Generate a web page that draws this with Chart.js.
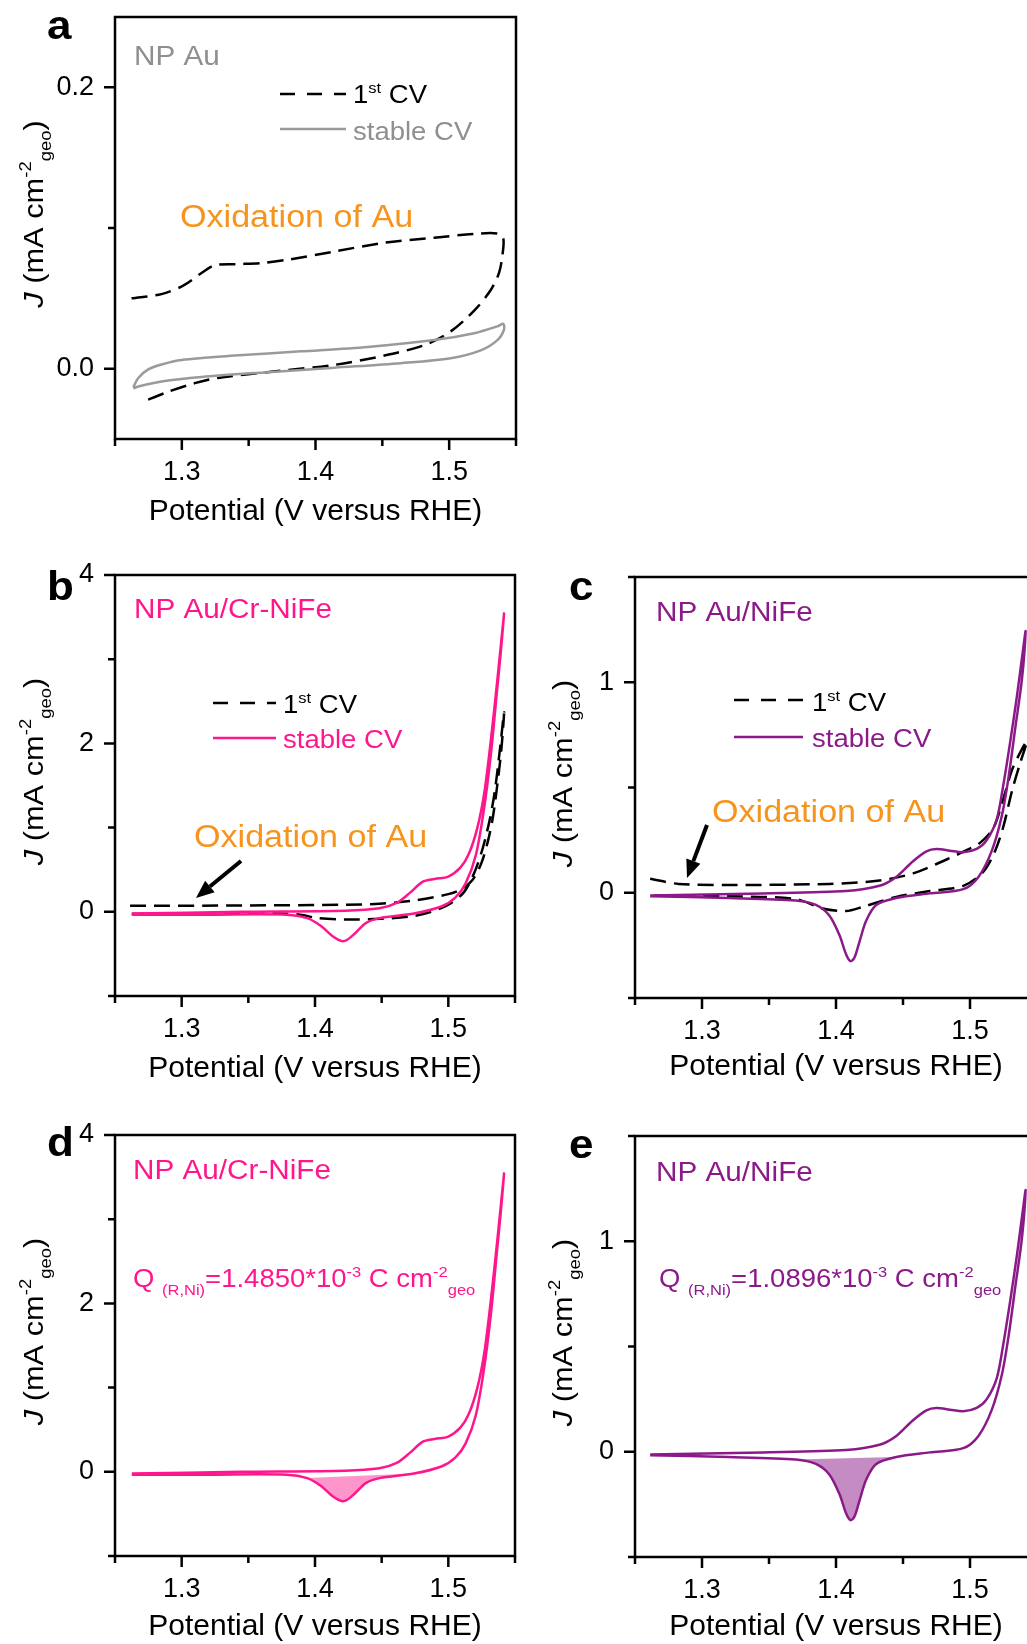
<!DOCTYPE html>
<html>
<head>
<meta charset="utf-8">
<title>Cyclic voltammograms of NP Au, NP Au/Cr-NiFe and NP Au/NiFe</title>
<script src="https://cdn.jsdelivr.net/npm/chart.js@4.4.1/dist/chart.umd.min.js"></script>
<style>
  html, body { margin: 0; padding: 0; background: #fff; }
  body { position: relative; width: 1027px; height: 1644px; overflow: hidden; }
</style>
</head>
<body>
<script>
// ---- data: potential (V vs RHE) and current density J (mA cm-2 geo) ----

// panel a, NP Au, first CV (one closed loop)
const auFirstV = [1.2624, 1.2848, 1.3010, 1.3147, 1.3246, 1.3396, 1.3595, 1.3794, 1.4142, 1.4515, 1.4888, 1.5187, 1.5361, 1.5405,
                  1.5398, 1.5373, 1.5311, 1.5187, 1.5012, 1.4813, 1.4515, 1.4142, 1.3719, 1.3271, 1.3097, 1.2898, 1.2699]
const auFirstJ = [0.050, 0.053, 0.059, 0.068, 0.0735, 0.0743, 0.075, 0.0775, 0.0833, 0.0895, 0.0931, 0.0958, 0.0961, 0.0926,
                  0.0804, 0.0681, 0.0559, 0.0412, 0.0265, 0.0167, 0.0093, 0.0027, -0.0017, -0.0066, -0.0103, -0.0164, -0.0238]
// panel a, NP Au, stable CV (anodic then cathodic scan)
const auStableFwdV = [1.2637, 1.2674, 1.2749, 1.2848, 1.2998, 1.3396, 1.3893, 1.4391, 1.4888, 1.5187, 1.5361, 1.5405]
const auStableFwdJ = [-0.0132, -0.0066, -0.0005, 0.0030, 0.0062, 0.0093, 0.0123, 0.0154, 0.0203, 0.0252, 0.0301, 0.0319]
const auStableRevV = [1.5410, 1.5361, 1.5236, 1.5012, 1.4639, 1.4142, 1.3644, 1.3147, 1.2848, 1.2674, 1.2637]
const auStableRevJ = [0.0277, 0.0203, 0.0130, 0.0074, 0.0039, 0.0007, -0.0025, -0.0059, -0.0091, -0.0127, -0.0140]

// panels b and d, NP Au/Cr-NiFe
const crFirstV = [1.2613, 1.3452, 1.4226, 1.4484, 1.4742, 1.5000, 1.5103, 1.5181, 1.5245, 1.5297, 1.5335, 1.5374, 1.5400, 1.5418,
                  1.5387, 1.5348, 1.5310, 1.5258, 1.5194, 1.5116, 1.5000, 1.4871, 1.4742, 1.4484, 1.4226, 1.4019, 1.3890, 1.3710, 1.3194, 1.2626]
const crFirstJ = [0.071, 0.075, 0.084, 0.096, 0.134, 0.21, 0.273, 0.377, 0.566, 0.839, 1.132, 1.593, 1.971, 2.369,
                  1.929, 1.426, 1.09, 0.755, 0.461, 0.231, 0.084, 0.0, -0.05, -0.084, -0.092, -0.075, -0.034, -0.021, -0.021, -0.025]
const crStableFwdV = [1.2626, 1.3452, 1.4226, 1.4484, 1.4613, 1.4716, 1.4806, 1.4897, 1.5000, 1.5090, 1.5155, 1.5219, 1.5271, 1.5323, 1.5374, 1.5418]
const crStableFwdJ = [-0.021, 0.0, 0.013, 0.042, 0.105, 0.231, 0.356, 0.39, 0.419, 0.524, 0.692, 1.006, 1.426, 2.096, 2.851, 3.543]
const crStableRevV = [1.5392, 1.5361, 1.5323, 1.5271, 1.5206, 1.5129, 1.5052, 1.4948, 1.4742, 1.4484, 1.4381, 1.4303, 1.4239, 1.4200,
                      1.4135, 1.4045, 1.3942, 1.3787, 1.3194, 1.2626]
const crStableRevJ = [3.061, 2.558, 1.929, 1.258, 0.671, 0.335, 0.168, 0.063, -0.021, -0.075, -0.134, -0.252, -0.335, -0.348,
                      -0.294, -0.168, -0.075, -0.034, -0.034, -0.034]

// panels c and e, NP Au/NiFe
const niFirstV = [1.2613, 1.2825, 1.3200, 1.3950, 1.4325, 1.4575, 1.4825, 1.4950, 1.5075, 1.5175, 1.5250, 1.5313, 1.5375, 1.5425,
                  1.5375, 1.5313, 1.5250, 1.5188, 1.5100, 1.4950, 1.4700, 1.4450, 1.4200, 1.4075, 1.3900, 1.3700, 1.3200, 1.2613]
const niFirstJ = [0.067, 0.042, 0.037, 0.042, 0.058, 0.092, 0.158, 0.195, 0.237, 0.308, 0.45, 0.583, 0.667, 0.72,
                  0.617, 0.483, 0.317, 0.2, 0.1, 0.033, 0.008, -0.02, -0.067, -0.087, -0.075, -0.03, -0.017, -0.013]
const niStableFwdV = [1.2613, 1.3450, 1.4075, 1.4325, 1.4450, 1.4575, 1.4675, 1.4750, 1.4850, 1.4950, 1.5050, 1.5125, 1.5200, 1.5250,
                      1.5300, 1.5350, 1.5395, 1.5415]
const niStableFwdJ = [-0.013, -0.003, 0.008, 0.033, 0.075, 0.15, 0.197, 0.208, 0.2, 0.192, 0.208, 0.25, 0.35, 0.517,
                      0.717, 0.933, 1.15, 1.242]
const niStableRevV = [1.5388, 1.5338, 1.5288, 1.5238, 1.5163, 1.5063, 1.4950, 1.4700, 1.4450, 1.4300, 1.4225, 1.4175, 1.4138, 1.4108,
                      1.4075, 1.4025, 1.3950, 1.3850, 1.3700, 1.3200, 1.2613]
const niStableRevJ = [1.017, 0.783, 0.55, 0.367, 0.2, 0.075, 0.017, -0.003, -0.025, -0.058, -0.133, -0.233, -0.308, -0.325,
                      -0.292, -0.2, -0.108, -0.058, -0.037, -0.025, -0.017]

// potential window of the shaded Ni reduction peak (panels d and e)
const crShadeRange = [1.39, 1.476]
const niShadeRange = [1.365, 1.46]

// ticks
const xTickValues = [1.25, 1.3, 1.35, 1.4, 1.45, 1.5, 1.55]
const xTickLabels = ['', '1.3', '', '1.4', '', '1.5', '']
const auTickValues = [0, 0.1, 0.2]
const auTickLabels = ['0.0', '', '0.2']
const crTickValues = [-1, 0, 1, 2, 3, 4]
const crTickLabels = ['', '0', '', '2', '', '4']
const niTickValues = [-0.5, 0, 0.5, 1, 1.5]
const niTickLabels = ['', '0', '', '1', '']

// texts
const xTitle = 'Potential (V versus RHE)'
const yTitle = [['J', 'italic'], [' (mA cm'], ['-2', 'sup'], ['geo', 'sub'], [')']]
const firstLabel = [['1'], ['st', 'sup'], [' CV']]
const stableLabel = [['stable CV']]
const oxidationLabel = [['Oxidation of Au']]
const crCharge = [['Q '], ['(R,Ni)', 'sub'], ['=1.4850*10'], ['-3', 'sup'], [' C cm'], ['-2', 'sup'], ['geo', 'sub']]
const niCharge = [['Q '], ['(R,Ni)', 'sub'], ['=1.0896*10'], ['-3', 'sup'], [' C cm'], ['-2', 'sup'], ['geo', 'sub']]

const FONT = '"Liberation Sans", Arial, Helvetica, sans-serif'
const PINK = '#ff168c'
const PURPLE = '#8b1a89'
const ORANGE = '#f7941d'
const GRAY_LINE = '#9a9a9a'
const GRAY_TEXT = '#8f8f8f'
const STRETCH = 1.1  // the figure's lettering is a bit wider than plain Arial

Chart.defaults.font.family = FONT
Chart.defaults.color = '#000'

const pts = (vs, js) => vs.map((v, i) => ({ x: v, y: js[i] }))
const loop = (fv, fj, rv, rj) => pts(fv.concat(rv), fj.concat(rj))
const shade = (rv, rj, range) => pts(rv, rj).filter(p => p.x >= range[0] && p.x <= range[1])

function firstCv(data) {
  return { data, showLine: true, fill: false, borderColor: '#000', borderWidth: 2.5, borderDash: [16, 8], pointRadius: 0, tension: 0.3 }
}
function stableCv(data, color) {
  return { data, showLine: true, fill: false, borderColor: color, borderWidth: 2.5, pointRadius: 0, tension: 0.3 }
}
function peakArea(data, color) {
  return { data, showLine: true, fill: 'shape', backgroundColor: color, borderColor: 'rgba(0,0,0,0)', borderWidth: 0, pointRadius: 0, tension: 0.3 }
}

// draws a run of text pieces with super/subscripts; x,y is the left baseline point (or centre)
function richText(ctx, x, y, parts, size, color, opts = {}) {
  ctx.save()
  ctx.translate(x, y)
  if (opts.rotate) ctx.rotate(opts.rotate)
  ctx.scale(STRETCH, 1)
  ctx.fillStyle = color
  ctx.textBaseline = 'alphabetic'
  const items = parts.map(([t, kind]) => {
    const small = kind === 'sup' || kind === 'sub'
    const font = (kind === 'italic' ? 'italic ' : '') + (opts.bold ? 'bold ' : '') + (small ? size * 0.6 : size) + 'px ' + FONT
    ctx.font = font
    return { t, font, w: ctx.measureText(t).width, dy: kind === 'sup' ? -size * 0.42 : kind === 'sub' ? size * 0.3 : 0 }
  })
  const total = items.reduce((s, it) => s + it.w, 0)
  let cx = opts.align === 'center' ? -total / 2 : 0
  items.forEach(it => {
    ctx.font = it.font
    ctx.fillText(it.t, cx, it.dy)
    cx += it.w
  })
  ctx.restore()
}

function drawArrow(ctx, x1, y1, x2, y2) {
  const ang = Math.atan2(y2 - y1, x2 - x1)
  const head = 18, half = 7.5
  const bx = x2 - head * Math.cos(ang), by = y2 - head * Math.sin(ang)
  ctx.save()
  ctx.strokeStyle = '#000'
  ctx.fillStyle = '#000'
  ctx.lineWidth = 4
  ctx.beginPath()
  ctx.moveTo(x1, y1)
  ctx.lineTo(bx, by)
  ctx.stroke()
  ctx.beginPath()
  ctx.moveTo(x2, y2)
  ctx.lineTo(bx + half * Math.sin(ang), by - half * Math.cos(ang))
  ctx.lineTo(bx - half * Math.sin(ang), by + half * Math.cos(ang))
  ctx.closePath()
  ctx.fill()
  ctx.restore()
}

// frame, outward ticks and all the lettering inside each panel
function decorations(p) {
  return {
    id: 'decor',
    afterDraw(chart) {
      const ctx = chart.ctx
      const { left: L, right: R, top: T, bottom: B } = chart.chartArea
      const xs = chart.scales.x, ys = chart.scales.y
      ctx.save()
      ctx.strokeStyle = '#000'
      ctx.lineWidth = 2.5
      ctx.strokeRect(L, T, R - L, B - T)
      ctx.beginPath()
      xTickValues.forEach((v, i) => {
        const px = xs.getPixelForValue(v)
        ctx.moveTo(px, B)
        ctx.lineTo(px, B + (xTickLabels[i] ? 11 : 7))
      })
      p.yTicks.forEach((v, i) => {
        const py = ys.getPixelForValue(v)
        ctx.moveTo(L, py)
        ctx.lineTo(L - (p.yLabels[i] ? 11 : 7), py)
      })
      ctx.stroke()

      richText(ctx, L + p.letterAt[0], T + p.letterAt[1], [[p.letter]], 40, '#000', { bold: true })
      richText(ctx, L + p.yTitleDx, (T + B) / 2 - 14, yTitle, 28, '#000', { rotate: -Math.PI / 2, align: 'center' })
      richText(ctx, L + p.nameAt[0], T + p.nameAt[1], [[p.name]], 27, p.textColor)

      if (p.legend) {
        const lg = p.legend
        ctx.lineWidth = 2.5
        ctx.strokeStyle = '#000'
        ctx.setLineDash([15, 12])
        ctx.beginPath()
        ctx.moveTo(L + lg.x1, T + lg.rows[0][0])
        ctx.lineTo(L + lg.x2, T + lg.rows[0][0])
        ctx.stroke()
        ctx.setLineDash([])
        ctx.strokeStyle = p.lineColor
        ctx.beginPath()
        ctx.moveTo(L + lg.x1, T + lg.rows[1][0])
        ctx.lineTo(L + lg.x2, T + lg.rows[1][0])
        ctx.stroke()
        richText(ctx, L + lg.tx, T + lg.rows[0][1], firstLabel, 25, '#000')
        richText(ctx, L + lg.tx, T + lg.rows[1][1], stableLabel, 25, p.textColor)
      }
      if (p.oxAt) richText(ctx, L + p.oxAt[0], T + p.oxAt[1], oxidationLabel, 31, ORANGE)
      if (p.arrow) drawArrow(ctx, L + p.arrow[0], T + p.arrow[1], L + p.arrow[2], T + p.arrow[3])
      if (p.charge) richText(ctx, L + p.chargeAt[0], T + p.chargeAt[1], p.charge, 25, p.textColor)
      ctx.restore()
    }
  }
}

function makePanel(p) {
  const canvas = document.createElement('canvas')
  canvas.width = p.box.w
  canvas.height = p.box.h
  canvas.style.cssText = `position:absolute;left:${p.box.left}px;top:${p.box.top}px;width:${p.box.w}px;height:${p.box.h}px`
  document.body.appendChild(canvas)
  const a = p.area
  const xHeight = p.box.top + p.box.h - a.b
  return new Chart(canvas, {
    type: 'scatter',
    data: { datasets: p.datasets },
    options: {
      responsive: false,
      animation: false,
      events: [],
      layout: { padding: { top: a.t - p.box.top, right: p.box.left + p.box.w - a.r, left: 0, bottom: 0 } },
      plugins: { legend: { display: false }, tooltip: { enabled: false } },
      scales: {
        // the tick marks themselves are drawn by the decor plugin; tickLength only spaces the labels
        x: {
          type: 'linear', min: 1.25, max: 1.55,
          afterBuildTicks: s => { s.ticks = xTickValues.map(v => ({ value: v })) },
          afterFit: s => { s.height = xHeight },
          grid: { display: false, drawTicks: true, tickLength: 17 },
          border: { display: false },
          ticks: { autoSkip: false, maxRotation: 0, padding: 0, color: '#000', font: { size: 27 }, callback: (v, i) => xTickLabels[i] },
          title: { display: true, text: xTitle, color: '#000', font: { size: 30, lineHeight: 1 },
                   padding: { top: 0, bottom: p.box.top + p.box.h - p.titleY - 15 } }
        },
        y: {
          type: 'linear', min: p.yMin, max: p.yMax,
          afterBuildTicks: s => { s.ticks = p.yTicks.map(v => ({ value: v })) },
          afterFit: s => { s.width = a.l - p.box.left },
          grid: { display: false, drawTicks: true, tickLength: 21 },
          border: { display: false },
          ticks: { autoSkip: false, padding: 0, color: '#000', font: { size: 27 }, callback: (v, i) => p.yLabels[i] }
        }
      }
    },
    plugins: [decorations(p)]
  })
}

makePanel({
  letter: 'a', box: { left: 0, top: 0, w: 530, h: 545 }, area: { l: 115, t: 17, r: 516, b: 439 }, titleY: 512,
  yMin: -0.05, yMax: 0.25, yTicks: auTickValues, yLabels: auTickLabels, yTitleDx: -72, letterAt: [-68, 22],
  name: 'NP Au', nameAt: [19, 48], textColor: GRAY_TEXT, lineColor: GRAY_LINE,
  legend: { x1: 165, x2: 231, tx: 238, rows: [[77, 86], [112, 123]] },
  oxAt: [65, 210],
  datasets: [
    stableCv(loop(auStableFwdV, auStableFwdJ, auStableRevV, auStableRevJ), GRAY_LINE),
    firstCv(pts(auFirstV, auFirstJ))
  ]
})

makePanel({
  letter: 'b', box: { left: 0, top: 545, w: 530, h: 545 }, area: { l: 115, t: 575, r: 515, b: 996 }, titleY: 1069,
  yMin: -1, yMax: 4, yTicks: crTickValues, yLabels: crTickLabels, yTitleDx: -72, letterAt: [-68, 25],
  name: 'NP Au/Cr-NiFe', nameAt: [19, 43], textColor: PINK, lineColor: PINK,
  legend: { x1: 98, x2: 161, tx: 168, rows: [[128, 138], [163, 173]] },
  oxAt: [79, 272], arrow: [126, 286, 81, 323],
  datasets: [
    stableCv(loop(crStableFwdV, crStableFwdJ, crStableRevV, crStableRevJ), PINK),
    firstCv(pts(crFirstV, crFirstJ))
  ]
})

makePanel({
  letter: 'c', box: { left: 530, top: 545, w: 530, h: 545 }, area: { l: 635, t: 577, r: 1037, b: 998 }, titleY: 1067,
  yMin: -0.5, yMax: 1.5, yTicks: niTickValues, yLabels: niTickLabels, yTitleDx: -63, letterAt: [-66, 23],
  name: 'NP Au/NiFe', nameAt: [21, 44], textColor: PURPLE, lineColor: PURPLE,
  legend: { x1: 99, x2: 168, tx: 177, rows: [[123, 134], [160, 170]] },
  oxAt: [77, 245], arrow: [72, 248, 52, 301],
  datasets: [
    stableCv(loop(niStableFwdV, niStableFwdJ, niStableRevV, niStableRevJ), PURPLE),
    firstCv(pts(niFirstV, niFirstJ))
  ]
})

makePanel({
  letter: 'd', box: { left: 0, top: 1090, w: 530, h: 554 }, area: { l: 115, t: 1135, r: 515, b: 1556 }, titleY: 1627,
  yMin: -1, yMax: 4, yTicks: crTickValues, yLabels: crTickLabels, yTitleDx: -72, letterAt: [-68, 21],
  name: 'NP Au/Cr-NiFe', nameAt: [18, 44], textColor: PINK, lineColor: PINK,
  charge: crCharge, chargeAt: [18, 152],
  datasets: [
    stableCv(loop(crStableFwdV, crStableFwdJ, crStableRevV, crStableRevJ), PINK),
    peakArea(shade(crStableRevV, crStableRevJ, crShadeRange), 'rgba(255, 22, 140, 0.45)')
  ]
})

makePanel({
  letter: 'e', box: { left: 530, top: 1090, w: 530, h: 554 }, area: { l: 635, t: 1136, r: 1037, b: 1557 }, titleY: 1627,
  yMin: -0.5, yMax: 1.5, yTicks: niTickValues, yLabels: niTickLabels, yTitleDx: -63, letterAt: [-66, 22],
  name: 'NP Au/NiFe', nameAt: [21, 45], textColor: PURPLE, lineColor: PURPLE,
  charge: niCharge, chargeAt: [24, 151],
  datasets: [
    stableCv(loop(niStableFwdV, niStableFwdJ, niStableRevV, niStableRevJ), PURPLE),
    peakArea(shade(niStableRevV, niStableRevJ, niShadeRange), 'rgba(139, 26, 137, 0.5)')
  ]
})
</script>
</body>
</html>
